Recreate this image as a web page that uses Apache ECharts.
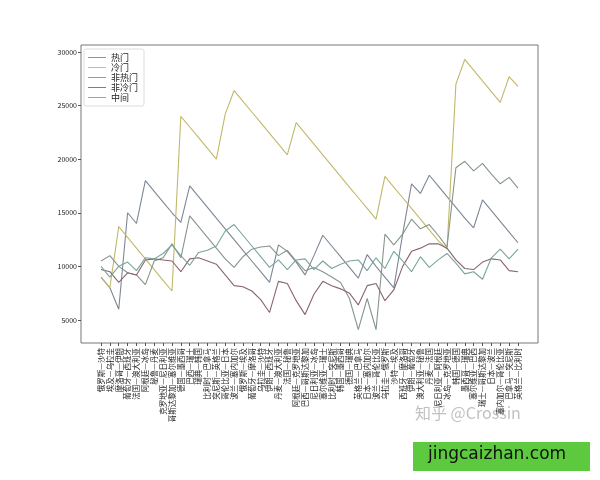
<!DOCTYPE html>
<html>
<head>
<meta charset="utf-8">
<script src="https://cdn.jsdelivr.net/npm/echarts@6/dist/echarts.min.js"></script>
<style>
  html, body { margin: 0; padding: 0; background: #fff; }
  #chart { width: 600px; height: 480px; }
</style>
</head>
<body>
<div id="chart"></div>
<script>
var matches = ['俄罗斯—沙特','埃及—乌拉圭','摩洛哥—伊朗','葡萄牙—西班牙','法国—澳大利亚','阿根廷—冰岛','秘鲁—丹麦','克罗地亚—尼日利亚',
  '哥斯达黎加—塞尔维亚','德国—墨西哥','巴西—瑞士','瑞典—韩国','比利时—巴拿马','突尼斯—英格兰','哥伦比亚—日本','波兰—塞内加尔',
  '俄罗斯—埃及','葡萄牙—摩洛哥','乌拉圭—沙特','伊朗—西班牙','丹麦—澳大利亚','法国—秘鲁','阿根廷—克罗地亚','巴西—哥斯达黎加',
  '尼日利亚—冰岛','塞尔维亚—瑞士','比利时—突尼斯','韩国—墨西哥','德国—瑞典','英格兰—巴拿马','日本—塞内加尔','波兰—哥伦比亚',
  '乌拉圭—俄罗斯','沙特—埃及','西班牙—摩洛哥','伊朗—葡萄牙','澳大利亚—秘鲁','丹麦—法国','尼日利亚—阿根廷','冰岛—克罗地亚',
  '韩国—德国','墨西哥—瑞典','塞尔维亚—巴西','瑞士—哥斯达黎加','日本—波兰','塞内加尔—哥伦比亚','巴拿马—突尼斯','英格兰—比利时'];

var hot = [9000,8000,6000,15000,14000,18000,17000,16000,15000,14100,17500,16500,15500,14500,13500,12500,
  11500,10500,9500,8500,12000,11400,10400,9200,11000,12900,11900,10900,9900,8900,11100,10000,
  9000,8000,13000,17700,16800,18500,17500,16500,15500,14500,13600,16200,15200,14200,13200,12200];
var cold = [9000,8000,13700,12700,11700,10700,9700,8700,7700,24000,23000,22000,21000,20000,24200,26400,
  25400,24400,23400,22400,21400,20400,23400,22400,21400,20400,19400,18400,17400,16400,15400,14400,
  18400,17400,16400,15400,14400,13400,12400,11600,27000,29300,28300,27300,26300,25300,27700,26800];
var notHot = [10500,11000,10000,9400,9200,8300,10500,10800,12100,10800,14700,13700,12700,11700,10700,9900,
  10900,11600,11800,11900,11000,11500,10500,9600,9900,9500,9000,8500,7000,4100,7000,4100,
  13000,12000,13000,14400,13500,13900,12900,11800,19200,19800,18900,19600,18600,17700,18300,17300];
var notCold = [9700,9500,8500,9400,9200,10600,10700,10600,10500,9500,10700,10800,10500,10200,9200,8200,
  8100,7700,6900,5700,8600,8400,6800,5500,7400,8600,8200,7900,7500,6400,8200,8400,
  6800,7800,10000,11400,11700,12100,12100,11700,10600,9800,9700,10400,10700,10600,9600,9500];
var middle = [10000,9000,10000,10400,9600,10800,10700,11200,12000,11000,10100,11300,11500,11900,13300,13900,
  12900,11900,10900,9900,10600,9700,10600,10700,9700,10500,9800,10200,10500,10600,9600,10800,
  9800,11400,10500,9500,10900,9900,10600,11200,10300,9300,9500,8800,10800,11600,10700,11600];
var yTicks = [5000,10000,15000,20000,25000,30000];

var names = ['热门','冷门','非热门','非冷门','中间'];
var colors = ['#7d8796','#c2b86a','#86958a','#8a6472','#79a49c'];
var values = [hot, cold, notHot, notCold, middle];

var chart = echarts.init(document.getElementById('chart'));
var font = '"Noto Sans CJK SC", "DejaVu Sans", sans-serif';

chart.setOption({
  animation: false,
  color: colors,
  textStyle: { fontFamily: font },
  grid: { left: 101, right: 82, top: 45, bottom: 137 },
  legend: {
    orient: 'vertical', left: 84, top: 49,
    backgroundColor: '#fff', borderColor: '#ddd', borderWidth: 1, borderRadius: 2,
    padding: [4, 6, 4, 4], itemGap: 1, itemWidth: 18, itemHeight: 8,
    icon: 'path://M0,4L20,4L20,5L0,5Z',
    textStyle: { fontSize: 9, color: '#222' },
    data: names
  },
  xAxis: {
    type: 'category', data: matches, boundaryGap: false,
    axisLine: { show: false },
    axisTick: { show: true, length: 3, lineStyle: { color: '#555' } },
    axisLabel: { rotate: 90, interval: 0, fontSize: 7.5, color: '#222', margin: 5 }
  },
  yAxis: {
    type: 'value', min: 2850, max: 30650, offset: 20,
    splitLine: { show: false },
    axisLine: { show: false },
    axisTick: { show: true, customValues: yTicks, length: 3, lineStyle: { color: '#555' } },
    axisLabel: { customValues: yTicks, fontSize: 7, color: '#222', margin: 4,
      formatter: function (v) { return String(v); } }
  },
  series: names.map(function (n, i) {
    return {
      name: n, type: 'line', data: values[i], symbol: 'none',
      lineStyle: { width: 1.1, color: colors[i] }
    };
  }),
  graphic: [
    { type: 'rect', shape: { x: 81, y: 45, width: 457, height: 298 },
      style: { fill: 'none', stroke: '#777', lineWidth: 1 }, silent: true },
    { type: 'text', left: 415, top: 405,
      style: { text: '知乎 @Crossin', fill: 'rgba(150,150,150,0.6)', font: '16px ' + font } },
    { type: 'rect', shape: { x: 413, y: 442, width: 177, height: 29 }, style: { fill: '#5cc93f' } },
    { type: 'text', left: 428, top: 446,
      style: { text: 'jingcaizhan.com', fill: '#111', font: '17px "DejaVu Sans", sans-serif' } }
  ]
});
</script>
</body>
</html>
